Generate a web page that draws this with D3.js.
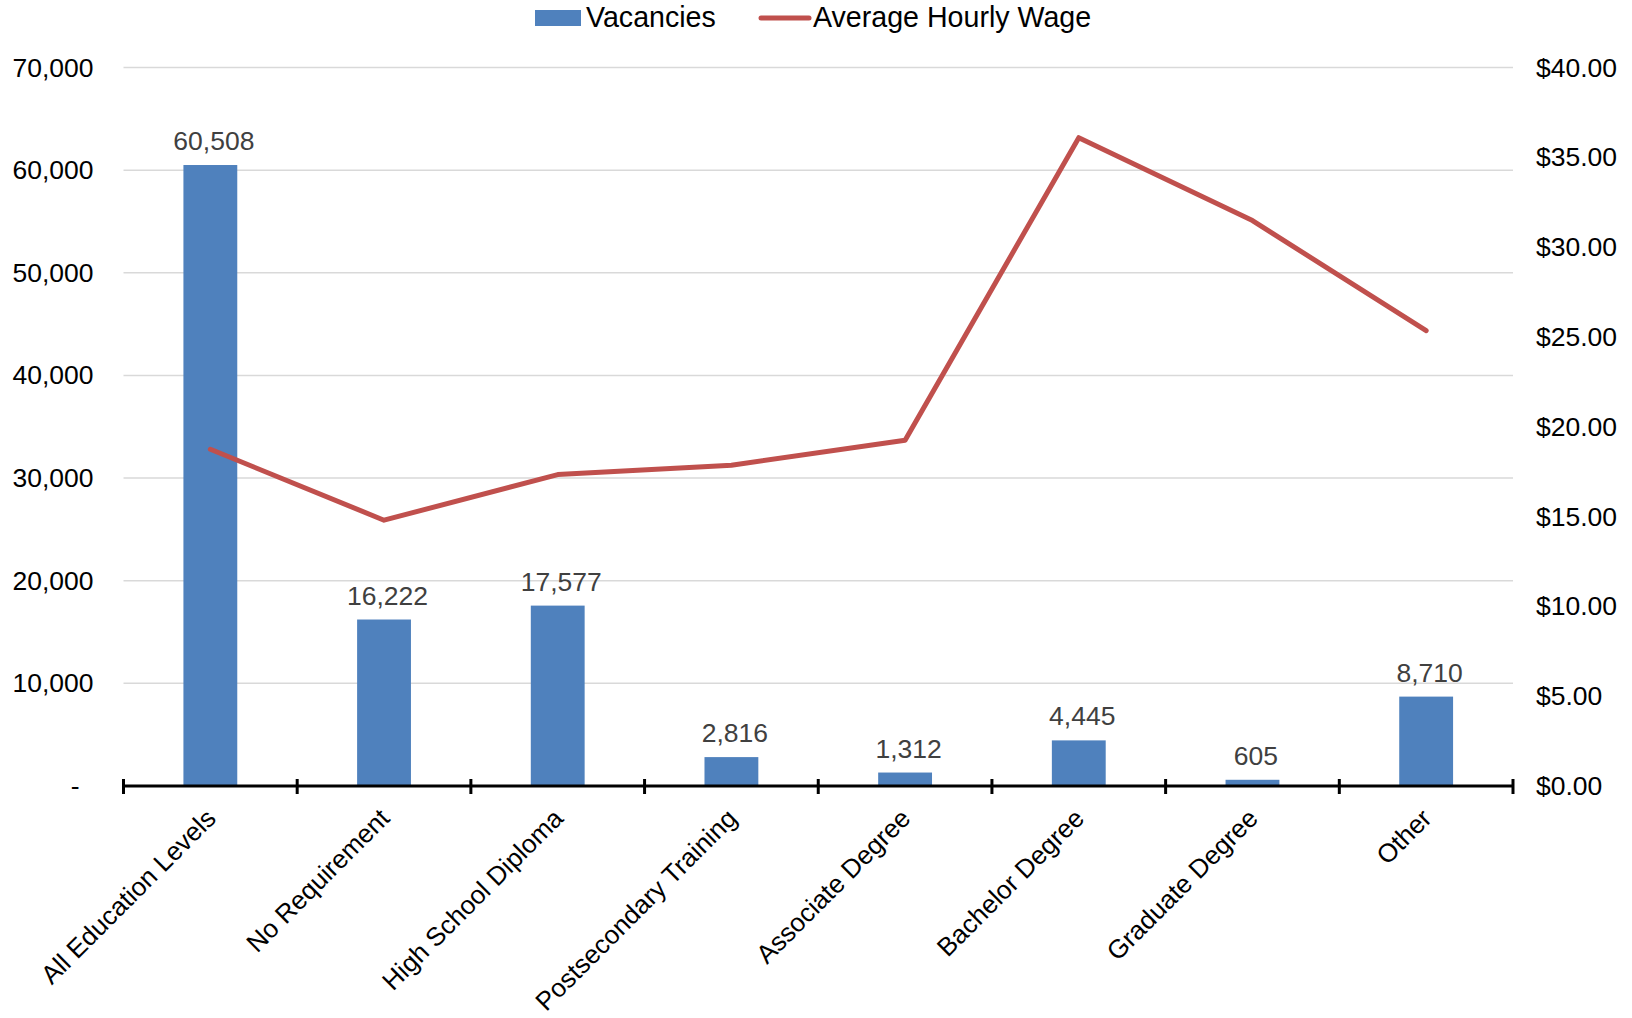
<!DOCTYPE html>
<html>
<head>
<meta charset="utf-8">
<script src="https://cdn.jsdelivr.net/npm/d3@7"></script>
<style>
  html, body { margin: 0; padding: 0; background: #fff; }
  svg { display: block; font-family: "Liberation Sans", Arial, sans-serif; }
</style>
</head>
<body>
<svg id="chart" width="1632" height="1018"></svg>
<script>
const categories = ["All Education Levels", "No Requirement", "High School Diploma", "Postsecondary Training",
  "Associate Degree", "Bachelor Degree", "Graduate Degree", "Other"];
const vacancies = [60508, 16222, 17577, 2816, 1312, 4445, 605, 8710];
const wages = [18.75, 14.80, 17.34, 17.86, 19.25, 36.10, 31.48, 25.35];
const leftTicks = [0, 10000, 20000, 30000, 40000, 50000, 60000, 70000];
const rightTicks = [0, 5, 10, 15, 20, 25, 30, 35, 40];
const seriesNames = ["Vacancies", "Average Hourly Wage"];

const barColor = "#4F81BD", lineColor = "#C0504D";
const fontSize = 26.5, xFontSize = 26, legendFontSize = 28.6;
const plotLeft = 123.5, plotRight = 1513, plotTop = 67.6, plotBottom = 786;

const svg = d3.select("#chart");

const x = d3.scaleBand().domain(categories).range([plotLeft, plotRight]).paddingInner(0).paddingOuter(0);
const yL = d3.scaleLinear().domain([0, 70000]).range([plotBottom, plotTop]);
const yR = d3.scaleLinear().domain([0, 40]).range([plotBottom, plotTop]);

// gridlines
svg.append("g").selectAll("line").data(leftTicks.filter(d => d > 0)).join("line")
  .attr("x1", plotLeft).attr("x2", plotRight)
  .attr("y1", d => yL(d)).attr("y2", d => yL(d))
  .attr("stroke", "#D9D9D9").attr("stroke-width", 1.5);

// left axis
const fmt = d3.format(",");
const gL = svg.append("g").attr("transform", `translate(${plotLeft - 30},0)`)
  .call(d3.axisLeft(yL).tickValues(leftTicks).tickSize(0).tickPadding(0)
    .tickFormat(d => d === 0 ? "-" : fmt(d)));
gL.select(".domain").remove();
gL.selectAll("text").attr("font-size", fontSize).attr("fill", "#000")
  .attr("font-family", "Liberation Sans, Arial, sans-serif");
gL.selectAll(".tick").filter(d => d === 0).select("text").attr("dx", -14);

// right axis
const gR = svg.append("g").attr("transform", `translate(${plotRight + 23},0)`)
  .call(d3.axisRight(yR).tickValues(rightTicks).tickSize(0).tickPadding(0)
    .tickFormat(d => "$" + d3.format(".2f")(d)));
gR.select(".domain").remove();
gR.selectAll("text").attr("font-size", fontSize).attr("fill", "#000")
  .attr("font-family", "Liberation Sans, Arial, sans-serif");

// bars
const bw = x.bandwidth() * 0.31;
svg.append("g").selectAll("rect").data(vacancies).join("rect")
  .attr("x", (d, i) => x(categories[i]) + x.bandwidth() / 2 - bw / 2)
  .attr("width", bw)
  .attr("y", d => yL(d))
  .attr("height", d => yL(0) - yL(d))
  .attr("fill", barColor);

// bar labels
svg.append("g").selectAll("text").data(vacancies).join("text")
  .attr("x", (d, i) => x(categories[i]) + x.bandwidth() / 2 + 3.5)
  .attr("y", d => yL(d) - 15)
  .attr("text-anchor", "middle")
  .attr("font-size", fontSize)
  .attr("fill", "#404040")
  .text(d => fmt(d));

// x axis
svg.append("line").attr("x1", plotLeft).attr("x2", plotRight).attr("y1", plotBottom).attr("y2", plotBottom)
  .attr("stroke", "#000").attr("stroke-width", 3);
const bounds = categories.map(c => x(c)).concat([plotRight]);
svg.append("g").selectAll("line").data(bounds).join("line")
  .attr("x1", d => d).attr("x2", d => d)
  .attr("y1", plotBottom - 7).attr("y2", plotBottom + 8)
  .attr("stroke", "#000").attr("stroke-width", 3);

// x labels
svg.append("g").selectAll("text").data(categories).join("text")
  .attr("transform", d => `translate(${x(d) + x.bandwidth() / 2 + 7},820) rotate(-45)`)
  .attr("text-anchor", "end")
  .attr("font-size", xFontSize)
  .attr("fill", "#000")
  .text(d => d);

// line
const line = d3.line().x((d, i) => x(categories[i]) + x.bandwidth() / 2).y(d => yR(d));
svg.append("path").datum(wages).attr("d", line)
  .attr("fill", "none").attr("stroke", lineColor).attr("stroke-width", 5)
  .attr("stroke-linejoin", "round").attr("stroke-linecap", "round");

// legend
const lg = svg.append("g");
lg.append("rect").attr("x", 535).attr("y", 10).attr("width", 46).attr("height", 16).attr("fill", barColor);
lg.append("text").attr("x", 586).attr("y", 27).attr("font-size", legendFontSize).attr("fill", "#000").text(seriesNames[0]);
lg.append("line").attr("x1", 761).attr("x2", 809).attr("y1", 18).attr("y2", 18)
  .attr("stroke", lineColor).attr("stroke-width", 5).attr("stroke-linecap", "round");
lg.append("text").attr("x", 813).attr("y", 27).attr("font-size", legendFontSize).attr("fill", "#000").text(seriesNames[1]);
</script>
</body>
</html>
